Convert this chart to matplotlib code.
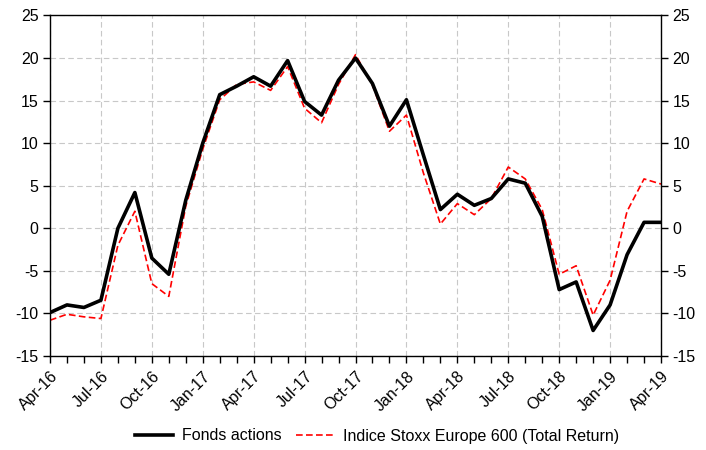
import matplotlib
matplotlib.use("Agg")
import matplotlib.pyplot as plt
import numpy as np

plt.rcParams['font.family'] = ['Liberation Sans', 'DejaVu Sans']
plt.rcParams['axes.unicode_minus'] = False

# mois d'avril 2016 a avril 2019
mois = ["Apr-16", "May-16", "Jun-16", "Jul-16", "Aug-16", "Sep-16", "Oct-16", "Nov-16", "Dec-16",
        "Jan-17", "Feb-17", "Mar-17", "Apr-17", "May-17", "Jun-17", "Jul-17", "Aug-17", "Sep-17",
        "Oct-17", "Nov-17", "Dec-17", "Jan-18", "Feb-18", "Mar-18", "Apr-18", "May-18", "Jun-18",
        "Jul-18", "Aug-18", "Sep-18", "Oct-18", "Nov-18", "Dec-18", "Jan-19", "Feb-19", "Mar-19",
        "Apr-19"]

fonds = [-9.9, -9.0, -9.3, -8.45, 0.0, 4.2, -3.5, -5.4, 3.3,
         10.0, 15.7, 16.7, 17.8, 16.7, 19.7, 14.9, 13.3, 17.4,
         20.0, 17.0, 12.0, 15.1, 8.6, 2.2, 4.0, 2.7, 3.5,
         5.8, 5.3, 1.4, -7.2, -6.3, -12.0, -9.0, -3.1, 0.7,
         0.7]

indice = [-10.8, -10.1, -10.4, -10.6, -2.0, 2.0, -6.5, -8.0, 2.6,
          9.3, 15.1, 16.9, 17.2, 16.2, 19.0, 14.1, 12.4, 16.9,
          20.4, 16.8, 11.4, 13.3, 6.5, 0.5, 2.9, 1.6, 3.5,
          7.2, 5.8, 2.2, -5.4, -4.4, -10.2, -6.1, 2.0, 5.8,
          5.2]

yticks = [-15, -10, -5, 0, 5, 10, 15, 20, 25]

x = np.arange(len(mois))

fig = plt.figure(figsize=(7.06, 4.5), dpi=100)
ax = fig.add_axes([0.0708, 0.2089, 0.8655, 0.7567])

ax.plot(x, fonds, color="black", linewidth=2.6, label="Fonds actions", zorder=3)
ax.plot(x, indice, color="red", linewidth=1.2, linestyle=(0, (4, 2)),
        label="Indice Stoxx Europe 600 (Total Return)", zorder=2)

ax.set_xlim(0, len(mois) - 1)
ax.set_ylim(-15, 25)
ax.set_yticks(yticks)
ax.set_xticks(x[::3])
ax.set_xticklabels(mois[::3], rotation=45, ha="right", rotation_mode="anchor")
ax.set_xticks(x, minor=True)

ax.grid(True, color="#c8c8c8", linestyle=(0, (5, 3)), linewidth=0.8)
ax.tick_params(axis="both", which="both", direction="out", length=5, width=1,
               labelsize=11.5, colors="black")
ax.tick_params(axis="y", right=True, labelright=True, pad=3.3)
ax.tick_params(axis="x", pad=4)

for s in ax.spines.values():
    s.set_linewidth(1.0)
    s.set_color("black")

fig.legend(*ax.get_legend_handles_labels(), loc="center left",
           bbox_to_anchor=(135 / 706, 14 / 450), ncol=2, frameon=False,
           fontsize=11.5, handlelength=2.4, handletextpad=0.56, columnspacing=0.87,
           borderpad=0, borderaxespad=0)

fig.savefig("out.png", dpi=100)
